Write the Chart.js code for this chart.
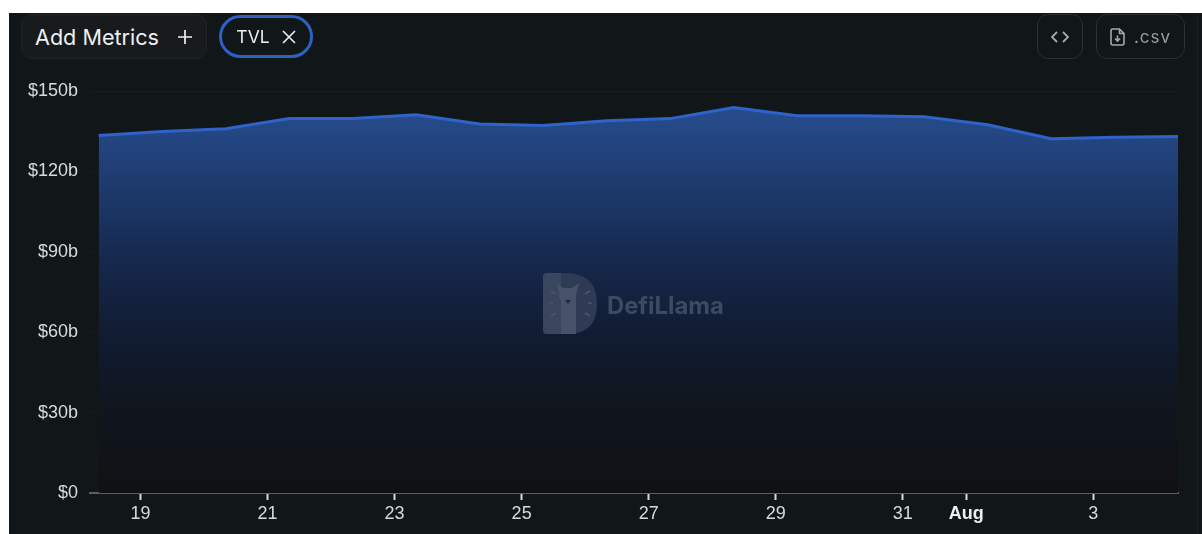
<!DOCTYPE html>
<html>
<head>
<meta charset="utf-8">
<title>TVL</title>
<script src="https://cdn.jsdelivr.net/npm/chart.js@4"></script>
<style>
html, body { margin: 0; padding: 0; background: #fff; width: 1202px; height: 534px; overflow: hidden; }
#panel { position: absolute; left: 9px; top: 13px; width: 1193px; height: 521px; background: #111718; }
#edge { position: absolute; left: 1197px; top: 13px; width: 1px; height: 521px; background: #1c2223; }
#lineChart { position: absolute; left: 0; top: 0; }
.btn { position: absolute; box-sizing: border-box; font-family: Inter, sans-serif; display: flex; align-items: center; justify-content: center; }
#addMetrics { left: 21px; top: 14px; width: 186px; height: 45px; background: #171b1d; border: 1px solid #1f2527; border-radius: 11px; color: #f0f0f0; font-size: 21.6px; }
#addMetrics svg { margin-left: 18px; }
#tvl { left: 219px; top: 15px; width: 94px; height: 43px; border: 3px solid #2e61c4; border-radius: 22px; color: #eee; font-size: 17.5px; }
#tvl svg { margin-left: 12px; }
#embed { left: 1037px; top: 14px; width: 46px; height: 45px; border: 1px solid #2b3133; border-radius: 11px; }
#csv { left: 1096px; top: 14px; width: 89px; height: 45px; border: 1px solid #2b3133; border-radius: 11px; color: #9a9e9f; font-size: 17px; letter-spacing: 1px; }
#csv svg { margin-right: 9px; }
#mark { position: absolute; left: 543px; top: 273px; width: 56px; height: 62px; }
#markText { position: absolute; left: 607px; top: 291px; font-family: Inter, sans-serif; font-weight: 700; font-size: 23.8px; color: #3d4a62; }
</style>
</head>
<body>
<div id="panel"></div>
<div id="edge"></div>
<canvas id="lineChart" width="1202" height="534"></canvas>
<div class="btn" id="addMetrics">Add Metrics<svg width="16" height="16" viewBox="0 0 16 16" stroke="#f0f0f0" stroke-width="1.7"><path d="M8 1 V15 M1 8 H15"/></svg></div>
<div class="btn" id="tvl">TVL<svg width="14" height="14" viewBox="0 0 14 14" stroke="#eee" stroke-width="1.6"><path d="M1 1 L13 13 M13 1 L1 13"/></svg></div>
<div class="btn" id="embed">
  <svg width="20" height="16" viewBox="0 0 20 16" fill="none" stroke="#a5a9aa" stroke-width="1.8"><path d="M7 3 L2 8 L7 13 M13 3 L18 8 L13 13"/></svg>
</div>
<div class="btn" id="csv">
  <svg width="15" height="18" viewBox="0 0 15 18" fill="none" stroke="#a5a9aa" stroke-width="1.6"><path d="M2.5 1 H9.5 L14 5.5 V15 Q14 17 12 17 H3 Q1 17 1 15 V2.5 Q1 1 2.5 1 Z M9.5 1 V5.5 H14"/><path d="M7.5 7.5 V13 M5 10.5 L7.5 13 L10 10.5"/></svg>
  .csv
</div>
<svg id="mark" viewBox="0 0 56 62">
  <path d="M0 4 Q0 0 4 0 H26 Q54 2 54 31 Q54 60 26 61 H4 Q0 61 0 57 Z" fill="#2f3b54"/>
  <path d="M0 4 Q0 0 4 0 H18 V61 H4 Q0 61 0 57 Z" fill="#3a465e"/>
  <path d="M14 10 L20 15 H29 L36 10 L33 22 L33 61 H18 L18 28 Q15 24 16 20 Z" fill="#465269"/>
  <path d="M22 27 L28 27 L25 31 Z" fill="#1c2a44"/>
  <path d="M8 18 L13 21 M42 21 L47 18 M6 30 H10 M45 30 H49 M8 43 L13 40 M42 40 L47 43" stroke="#4a566c" stroke-width="1.6"/>
</svg>
<div id="markText">DefiLlama</div>

<script>
// days counted from 1 July, so Aug 1 is 32
const dayValues = [18.34, 19.34, 20.34, 21.34, 22.34, 23.34, 24.34, 25.34, 26.34, 27.34, 28.34, 29.34, 30.34, 31.34, 32.34, 33.34, 34.34, 35.34]
const tvlValues = [133.4, 134.9, 135.9, 139.7, 139.7, 141.1, 137.7, 137.1, 138.9, 139.7, 143.8, 140.8, 140.8, 140.4, 137.4, 132.2, 132.7, 133.0]
const xTickDays = [19, 21, 23, 25, 27, 29, 31, 32, 34]
const xTickLabels = ["19", "21", "23", "25", "27", "29", "31", "Aug", "3"]
const yTickValues = [0, 30, 60, 90, 120, 150]
const yTickLabels = ["$0", "$30b", "$60b", "$90b", "$120b", "$150b"]

function areaFill(context) {
    const area = context.chart.chartArea
    if (!area) return "#1c3a72"
    const top = context.chart.scales.y.getPixelForValue(144)
    const gradient = context.chart.ctx.createLinearGradient(0, top, 0, area.bottom)
    gradient.addColorStop(0, "#274c8e")
    gradient.addColorStop(0.24, "#1c3768")
    gradient.addColorStop(0.42, "#152648")
    gradient.addColorStop(0.59, "#111c33")
    gradient.addColorStop(0.76, "#10161f")
    gradient.addColorStop(1, "#101114")
    return gradient
}

var ctxL = document.getElementById("lineChart").getContext("2d")
var myLineChart = new Chart(ctxL, {
    type: "line",
    data: {
        datasets: [{
            label: "TVL",
            data: dayValues.map((d, i) => ({ x: d, y: tvlValues[i] })),
            borderColor: "#2e63c9",
            borderWidth: 3,
            backgroundColor: areaFill,
            fill: "origin",
            pointRadius: 0,
            tension: 0
        }]
    },
    options: {
        responsive: false,
        animation: false,
        layout: { padding: { top: 91, right: 24, left: 0, bottom: 0 } },
        plugins: { legend: { display: false }, tooltip: { enabled: false } },
        scales: {
            x: {
                type: "linear",
                min: 18.203,
                max: 35.336,
                afterBuildTicks: function(scale) {
                    scale.ticks = xTickDays.map(v => ({ value: v }))
                },
                afterFit: function(scale) { scale.height = 41 },
                border: { color: "#5a5f61", width: 2 },
                grid: { drawOnChartArea: false, color: "#d8d8d8", tickLength: 7, tickWidth: 2 },
                ticks: {
                    autoSkip: false,
                    maxRotation: 0,
                    padding: 3,
                    color: function(c) { return c.tick && c.tick.value === 32 ? "#eeeeee" : "#dadada" },
                    font: function(c) {
                        return { family: "'Liberation Sans'", size: 18, weight: c.tick && c.tick.value === 32 ? "bold" : "normal" }
                    },
                    callback: function(value) { return xTickLabels[xTickDays.indexOf(value)] }
                }
            },
            y: {
                min: 0,
                max: 150,
                afterBuildTicks: function(scale) {
                    scale.ticks = yTickValues.map(v => ({ value: v }))
                },
                afterFit: function(scale) { scale.width = 90 },
                border: { display: false },
                grid: { color: "rgba(255,255,255,0.03)", drawTicks: false },
                ticks: {
                    padding: 12,
                    color: "#dadada",
                    font: { family: "'Liberation Sans'", size: 18 },
                    callback: function(value) { return yTickLabels[yTickValues.indexOf(value)] }
                }
            }
        }
    }
})
</script>
</body>
</html>
